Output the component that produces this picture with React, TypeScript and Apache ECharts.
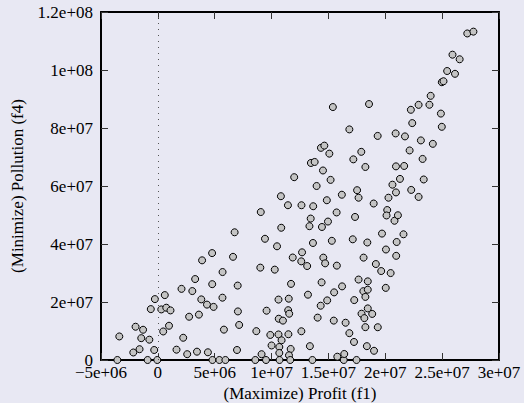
import React, { useEffect, useRef } from "react";
import * as echarts from "echarts";

// Values in millions
const profitMillions: number[] = [
  -3.56, -3.39, -2.16, -1.96, -1.61, -1.46, -1.3, -0.9, -0.75, -0.32, -0.05, -0.26, 0.61, -0.62, 0.3, 0.74, 1.11, 0.98, 0.47,
  2.08, 3.03, 3.28, 2.75, 3.61, 2.23, 1.64, 2.58, 3.44, 4.4, 4.8, 5.41, 5.94, 3.89, 4.77, 4.78, 5.69, 3.82, 4.32, 4.9, 5.68, 5.81,
  6.75, 6.61, 7.02, 7.04, 7.15, 6.96, 8.57, 8.66, 9.01, 9.05, 9.12, 9.42, 10.48, 10.28, 9.51, 9.56, 9.89, 10.0, 10.61, 10.61,
  10.63, 11.0, 10.88, 10.68, 10.68, 10.7, 10.85, 10.82, 11.44, 11.51, 11.46, 11.55, 11.48, 11.68, 11.53, 11.64, 11.71, 11.86, 11.99,
  12.63, 12.68, 12.61, 12.62, 13.13, 13.2, 13.37, 13.59, 13.64, 13.66, 13.44, 13.33, 13.46, 13.79, 13.96, 14.05, 14.32, 14.4,
  14.34, 14.64, 15.08, 14.52, 14.43, 14.55, 14.71, 14.96, 14.86, 14.89, 15.19, 15.3, 15.39, 15.47, 15.5, 15.72, 15.74, 15.78,
  16.18, 16.2, 16.35, 16.39, 16.51, 16.84, 16.84, 17.14, 17.19, 17.25, 17.27, 17.34, 17.52, 17.47, 17.65, 17.65,
  17.89, 18.09, 18.25, 18.42, 18.46, 18.07, 18.46, 18.25, 18.46, 17.91, 18.16, 18.85, 18.25, 19.34, 18.38, 19.01,
  18.57, 18.98, 19.17, 19.33, 19.64, 19.71, 20.04, 20.06, 20.17, 20.11, 20.28, 20.47, 20.63, 20.81, 20.91, 20.94, 20.94,
  20.96, 21.0, 21.11, 21.29, 21.6, 21.66, 21.73, 22.14, 22.25, 22.28, 22.37, 22.93, 22.93, 23.13, 23.28, 23.38, 23.88,
  23.99, 24.18, 24.89, 24.97, 24.97, 25.12, 25.44, 26.13, 25.91, 26.54, 27.21, 27.75,
];
const pollutionMillions: number[] = [
  0, 8.12, 2.59, 11.47, 3.73, 7.53, 10.43, 0, 7.01, 3.45, 0, 21.0, 22.38, 17.55, 17.44, 18.03, 17.1, 11.81, 9.84,
  24.53, 23.77, 27.91, 14.92, 15.65, 7.67, 3.56, 2.0, 2.87, 2.66, 0, 0, 0, 34.37, 36.86, 26.15, 30.33, 20.9, 19.1, 18.31, 21.49, 10.47,
  44.04, 35.58, 25.66, 16.75, 12.09, 3.45, 0, 9.95, 31.85, 51.02, 2.0, 41.8, 39.21, 31.16, 0, 17.0, 8.64, 5.01, 20.83, 8.81,
  14.23, 13.58, 6.8, 4.49, 2.42, 0, 45.6, 56.48, 53.37, 21.14, 17.17, 15.96, 8.88, 3.8, 1.62, 0, 26.25, 35.34, 63.04,
  53.37, 37.13, 34.02, 9.91, 32.4, 22.52, 4.77, 0, 40.35, 53.02, 48.77, 46.15, 67.94, 68.29, 60.0, 14.61, 18.72, 26.77,
  73.16, 73.92, 71.16, 65.35, 45.87, 35.3, 33.33, 47.74, 55.09, 20.55, 62.11, 41.1, 87.22, 13.58, 23.32, 50.88, 32.54, 1.14,
  56.99, 25.39, 0, 2.07, 12.85, 79.52, 9.26, 41.62, 69.19, 6.22, 20.66, 49.33, 58.55, 0, 55.96, 27.74,
  71.78, 35.3, 66.56, 40.52, 27.12, 23.73, 24.25, 21.76, 17.79, 15.96, 14.44, 15.89, 11.33, 11.3, 4.77, 3.18,
  88.26, 53.96, 33.09, 77.27, 30.67, 43.59, 24.87, 38.1, 51.71, 49.84, 55.96, 29.98, 60.45, 48.01, 78.13, 66.77, 57.79,
  35.92, 40.69, 49.91, 62.45, 43.35, 66.91, 77.1, 72.26, 86.28, 58.65, 81.69, 87.98, 56.23, 75.72, 69.33, 62.25, 88.01,
  91.09, 74.54, 84.97, 80.41, 95.79, 96.13, 99.65, 98.69, 105.28, 103.7, 112.6, 113.23,
];

const xTickLabels = ["\u22125e+06", "0", "5e+06", "1e+07", "1.5e+07", "2e+07", "2.5e+07", "3e+07"];
const yTickLabels = ["0", "2e+07", "4e+07", "6e+07", "8e+07", "1e+08", "1.2e+08"];
const xMin = -5e6;
const xMax = 3e7;
const xStep = 5e6;
const yMin = 0;
const yMax = 1.2e8;
const yStep = 2e7;
const xTitle = "(Maximize) Profit (f1)";
const yTitle = "(Minimize) Pollution (f4)";

const FONT = "'Liberation Serif', 'DejaVu Serif', serif";

export default function App() {
  const ref = useRef<HTMLDivElement>(null);
  useEffect(() => {
    document.body.style.margin = "0";
    if (!ref.current) return;
    const chart = echarts.init(ref.current, null, { renderer: "svg" });
    const data = profitMillions.map((p, i) => [p * 1e6, pollutionMillions[i] * 1e6]);
    const axisLine = { show: true, onZero: false, lineStyle: { color: "#000", width: 2 } };
    const tick = { show: true, inside: true, length: 7, lineStyle: { color: "#333", width: 1 } };
    const labelStyle = { color: "#000", fontFamily: FONT, fontSize: 17 };
    chart.setOption({
      animation: false,
      backgroundColor: "#e8e8f3",
      grid: { left: 101, right: 25, top: 12, bottom: 43, containLabel: false, outerBoundsMode: "none" },
      xAxis: [
        {
          type: "value",
          position: "bottom",
          min: xMin,
          max: xMax,
          interval: xStep,
          axisLine,
          axisTick: tick,
          splitLine: { show: false },
          axisLabel: {
            ...labelStyle,
            margin: 6,
            lineHeight: 13,
            showMinLabel: true,
            showMaxLabel: true,
            formatter: (v: number) => xTickLabels[Math.round((v - xMin) / xStep)] ?? "",
          },
          name: xTitle,
          nameLocation: "middle",
          nameGap: 26,
          nameMoveOverlap: false,
          nameTextStyle: { ...labelStyle, lineHeight: 15 },
        },
        {
          type: "value",
          position: "top",
          min: xMin,
          max: xMax,
          interval: xStep,
          axisLine,
          axisTick: tick,
          splitLine: { show: false },
          axisLabel: { show: false },
        },
      ],
      yAxis: [
        {
          type: "value",
          position: "left",
          min: yMin,
          max: yMax,
          interval: yStep,
          axisLine,
          axisTick: tick,
          splitLine: { show: false },
          axisLabel: {
            ...labelStyle,
            margin: 8,
            lineHeight: 12,
            showMinLabel: true,
            showMaxLabel: true,
            formatter: (v: number) => yTickLabels[Math.round((v - yMin) / yStep)] ?? "",
          },
          name: yTitle,
          nameLocation: "middle",
          nameGap: 75,
          nameMoveOverlap: false,
          nameTextStyle: { ...labelStyle },
        },
        {
          type: "value",
          position: "right",
          min: yMin,
          max: yMax,
          interval: yStep,
          axisLine,
          axisTick: tick,
          splitLine: { show: false },
          axisLabel: { show: false },
        },
      ],
      series: [
        {
          type: "scatter",
          xAxisIndex: 0,
          yAxisIndex: 0,
          data,
          symbol: "circle",
          symbolSize: 7,
          itemStyle: { color: "#c4c4c4", borderColor: "#000", borderWidth: 1, opacity: 1 },
          emphasis: { disabled: true },
          markLine: {
            silent: true,
            symbol: ["none", "none"],
            label: { show: false },
            lineStyle: { type: [1, 5], color: "#555", width: 1 },
            data: [{ xAxis: 0 }],
          },
        },
      ],
    });
    return () => chart.dispose();
  }, []);
  return <div ref={ref} style={{ position: "absolute", left: 0, top: 0, width: 524, height: 403 }} />;
}
